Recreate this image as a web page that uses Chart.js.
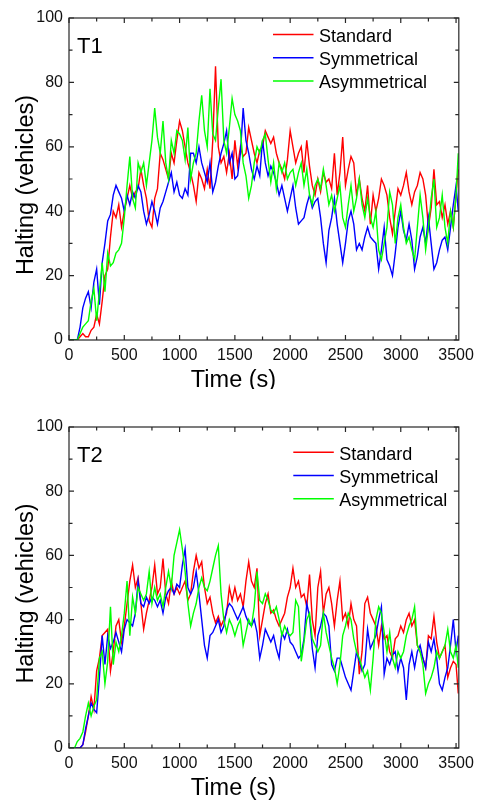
<!DOCTYPE html>
<html><head><meta charset="utf-8">
<script src="https://cdn.jsdelivr.net/npm/chart.js@4/dist/chart.umd.min.js"></script>
<style>
html,body{margin:0;padding:0;background:#fff;width:480px;height:801px;overflow:hidden}
.panel{position:absolute;left:0;width:480px;overflow:hidden;background:#fff}
#p1{top:0;height:389px}
#p2{top:409px;height:392px}
canvas{display:block}
</style></head><body>
<div class="panel" id="p1"><canvas id="c1" width="480" height="400"></canvas></div>
<div class="panel" id="p2"><canvas id="c2" width="480" height="400"></canvas></div>
<script>
// time samples (s)
const times = [
0,25,50,75,100,125,150,175,200,225,250,275,300,325,350,375,400,425,450,475,
500,525,550,575,600,625,650,675,700,725,750,775,800,825,850,875,900,925,950,975,
1000,1025,1050,1075,1100,1125,1150,1175,1200,1225,1250,1275,1300,1325,1350,1375,1400,1425,1450,1475,
1500,1525,1550,1575,1600,1625,1650,1675,1700,1725,1750,1775,1800,1825,1850,1875,1900,1925,1950,1975,
2000,2025,2050,2075,2100,2125,2150,2175,2200,2225,2250,2275,2300,2325,2350,2375,2400,2425,2450,2475,
2500,2525,2550,2575,2600,2625,2650,2675,2700,2725,2750,2775,2800,2825,2850,2875,2900,2925,2950,2975,
3000,3025,3050,3075,3100,3125,3150,3175,3200,3225,3250,3275,3300,3325,3350,3375,3400,3425,3450,3475,
3500,3520];

// Panel T1
const t1Standard = [
0,0,0,0,1,2,1,1,3,4,8,5,12,20,22,32,40,38,42,35,
40,44,48,44,46,47,53,48,44,37,35,44,47,58,56,53,50,58,55,62,
68,65,60,55,52,48,43,52,50,47,53,47,62,85,60,55,57,52,58,50,
62,54,60,57,58,66,62,58,55,59,60,65,63,61,63,58,55,53,50,56,
65,60,55,58,60,52,62,54,48,45,50,46,52,49,50,47,58,45,52,63,
48,53,57,55,45,50,44,40,48,36,45,40,44,50,48,45,38,33,40,47,
45,48,52,46,42,46,48,52,50,45,35,41,53,42,43,38,42,36,40,35,
45,53];
const t1Symmetrical = [
0,0,0,0,4,10,13,15,10,18,22,11,24,30,37,39,45,48,46,44,
40,45,42,46,44,48,46,40,36,39,43,40,36,41,43,46,49,52,46,49,
45,44,47,45,58,58,55,60,55,52,49,55,46,49,54,58,61,65,55,58,
50,51,58,72,62,58,53,50,54,51,62,55,51,54,52,49,45,48,44,40,
44,48,41,36,37,38,42,45,41,43,44,38,30,24,34,38,44,36,30,24,
30,37,40,36,28,30,28,32,35,32,31,30,22,28,35,25,23,20,27,35,
40,34,31,36,31,22,26,32,35,30,38,30,22,24,28,31,32,28,35,42,
48,40];
const t1Asymmetrical = [
0,0,0,0,2,4,5,6,12,16,6,15,24,15,27,23,24,27,28,30,
38,48,57,44,41,55,52,55,48,55,62,72,63,58,68,55,50,62,58,65,
64,62,56,66,50,55,58,68,76,65,60,78,64,62,72,81,62,58,66,75,
70,68,65,55,51,44,48,55,60,58,62,64,56,49,55,47,55,52,55,50,
52,53,48,52,55,48,53,45,42,48,50,47,53,48,42,45,40,44,48,38,
35,42,48,40,44,50,42,38,44,38,35,40,28,25,30,35,46,42,30,38,
42,35,30,32,28,25,35,45,38,28,35,44,50,35,38,45,35,30,40,35,
45,58];

// Panel T2
const t2Standard = [
0,0,0,0,0,1,5,10,16,12,24,28,35,36,37,24,30,38,40,33,
38,45,52,57,50,53,45,37,42,46,50,57,48,50,59,48,45,52,48,50,
48,50,52,46,48,55,60,56,58,50,45,47,42,39,41,38,40,42,50,46,
50,46,48,44,52,58,52,50,56,35,40,45,48,42,43,40,38,40,42,47,
50,56,50,52,47,48,44,54,40,35,50,55,42,48,50,45,38,46,52,40,
42,38,45,40,38,23,30,45,47,42,40,38,32,38,34,35,30,28,34,35,
38,36,40,42,38,40,32,30,28,25,35,34,41,33,28,30,32,22,25,27,
26,17];
const t2Symmetrical = [
0,0,0,0,0,1,6,10,14,12,11,22,35,26,35,31,33,36,33,30,
37,40,39,38,42,52,45,44,47,45,47,46,44,46,42,47,49,50,48,51,
50,57,62,50,48,50,55,48,40,32,28,35,36,38,40,36,38,43,45,44,
42,40,42,44,41,39,38,40,36,28,32,37,35,33,35,31,28,36,34,37,
33,32,30,28,29,34,45,41,31,25,35,38,42,41,38,26,24,28,28,25,
22,20,18,24,30,27,24,26,37,31,33,35,40,44,23,28,26,29,30,24,
28,25,15,26,30,25,30,32,28,25,33,30,34,28,20,18,22,25,32,40,
30,35];
const t2Asymmetrical = [
0,0,0,2,3,5,10,14,10,13,15,28,30,20,27,44,26,33,30,35,
42,52,35,47,42,50,48,46,48,55,45,50,46,48,44,50,55,50,60,64,
68,62,55,45,38,42,45,50,53,50,49,52,56,60,63,48,40,36,40,38,
35,38,40,32,36,40,38,44,55,46,45,48,46,43,42,44,40,35,38,36,
35,36,46,44,27,33,40,42,34,32,30,32,42,36,32,28,25,20,26,35,
38,42,40,34,30,28,25,22,24,18,28,40,44,42,36,30,36,28,25,30,
28,30,35,38,40,44,32,30,26,17,20,22,25,30,28,30,32,37,30,28,
32,25];

const seriesNames = ['Standard','Symmetrical','Asymmetrical'];
const seriesColors = ['#ff0000','#0000ff','#00ff00'];
const xTicks = [0,500,1000,1500,2000,2500,3000,3500];
const yTicks = [0,20,40,60,80,100];
const xMinorStep = 250, yMinorStep = 10;
const xTitle = 'Time (s)';
const yTitle = 'Halting (vehicles)';
const FONT = '"Liberation Sans", Arial, Helvetica, sans-serif';

const decorPlugin = {
  id: 'decor',
  afterDraw(chart, args, o) {
    const {ctx, chartArea: a, scales: {x, y}} = chart;
    ctx.save();
    // frame
    ctx.strokeStyle = '#262626';
    ctx.lineWidth = 1.2;
    ctx.strokeRect(a.left, a.top, a.right - a.left, a.bottom - a.top);
    // inward ticks on all four sides
    ctx.beginPath();
    for (let v = 0; v <= 3500; v += xMinorStep) {
      const px = x.getPixelForValue(v);
      const len = v % 500 === 0 ? 5 : 3.5;
      ctx.moveTo(px, a.bottom); ctx.lineTo(px, a.bottom - len);
      ctx.moveTo(px, a.top); ctx.lineTo(px, a.top + len);
    }
    for (let v = 0; v <= 100; v += yMinorStep) {
      const py = y.getPixelForValue(v);
      const len = v % 20 === 0 ? 5 : 3.5;
      ctx.moveTo(a.left, py); ctx.lineTo(a.left + len, py);
      ctx.moveTo(a.right, py); ctx.lineTo(a.right - len, py);
    }
    ctx.stroke();
    // axis titles
    ctx.fillStyle = '#000';
    ctx.font = '23.5px ' + FONT;
    ctx.textAlign = 'center';
    ctx.textBaseline = 'alphabetic';
    ctx.fillText(xTitle, o.xTitleX, a.bottom + 47);
    ctx.save();
    ctx.translate(33, (a.top + a.bottom) / 2 + 6);
    ctx.rotate(-Math.PI / 2);
    ctx.fillText(yTitle, 0, 0);
    ctx.restore();
    // panel label
    ctx.font = '22px ' + FONT;
    ctx.textAlign = 'left';
    ctx.fillText(o.label, a.left + 8, a.top + 35);
    // legend
    ctx.font = '18px ' + FONT;
    chart.data.datasets.forEach((ds, i) => {
      const ly = o.legendY + i * 23.2;
      ctx.strokeStyle = ds.borderColor;
      ctx.lineWidth = 1.5;
      ctx.beginPath();
      ctx.moveTo(o.legendX, ly); ctx.lineTo(o.legendX + 40.5, ly);
      ctx.stroke();
      ctx.fillStyle = '#000';
      ctx.fillText(ds.label, o.legendX + 46, ly + 7.5);
    });
    ctx.restore();
  }
};

function makeChart(id, series, opts) {
  const datasets = series.map((vals, i) => ({
    label: seriesNames[i],
    data: times.map((t, k) => ({x: t, y: vals[k]})),
    borderColor: seriesColors[i],
    borderWidth: 1.4,
    pointRadius: 0,
    tension: 0,
    fill: false,
    order: 2 - i
  }));
  const tickFont = {family: FONT, size: 16};
  return new Chart(document.getElementById(id), {
    type: 'line',
    data: {datasets},
    plugins: [decorPlugin],
    options: {
      responsive: false,
      animation: false,
      devicePixelRatio: 1,
      layout: {padding: {top: 18, right: opts.padRight, left: 0, bottom: 0}},
      plugins: {legend: {display: false}, tooltip: {enabled: false}, decor: opts},
      scales: {
        x: {
          type: 'linear', min: 0, max: 3525,
          afterBuildTicks: s => { s.ticks = xTicks.map(v => ({value: v})); },
          afterFit: s => { s.height = opts.xAxisHeight; },
          grid: {display: false, drawTicks: false},
          border: {display: false},
          ticks: {font: tickFont, color: '#111', padding: 6, maxRotation: 0, autoSkip: false,
                  callback: v => String(v)}
        },
        y: {
          type: 'linear', min: 0, max: 100,
          afterBuildTicks: s => { s.ticks = yTicks.map(v => ({value: v})); },
          afterFit: s => { s.width = 69; },
          grid: {display: false, drawTicks: false},
          border: {display: false},
          ticks: {font: tickFont, color: '#111', padding: 6, autoSkip: false,
                  callback: v => String(v)}
        }
      }
    }
  });
}

makeChart('c1', [t1Standard, t1Symmetrical, t1Asymmetrical],
  {label: 'T1', legendX: 273, legendY: 34.5, xTitleX: 233.5, padRight: 21, xAxisHeight: 60});
makeChart('c2', [t2Standard, t2Symmetrical, t2Asymmetrical],
  {label: 'T2', legendX: 293.3, legendY: 43.3, xTitleX: 233.5, padRight: 20, xAxisHeight: 61});
</script>
</body></html>
